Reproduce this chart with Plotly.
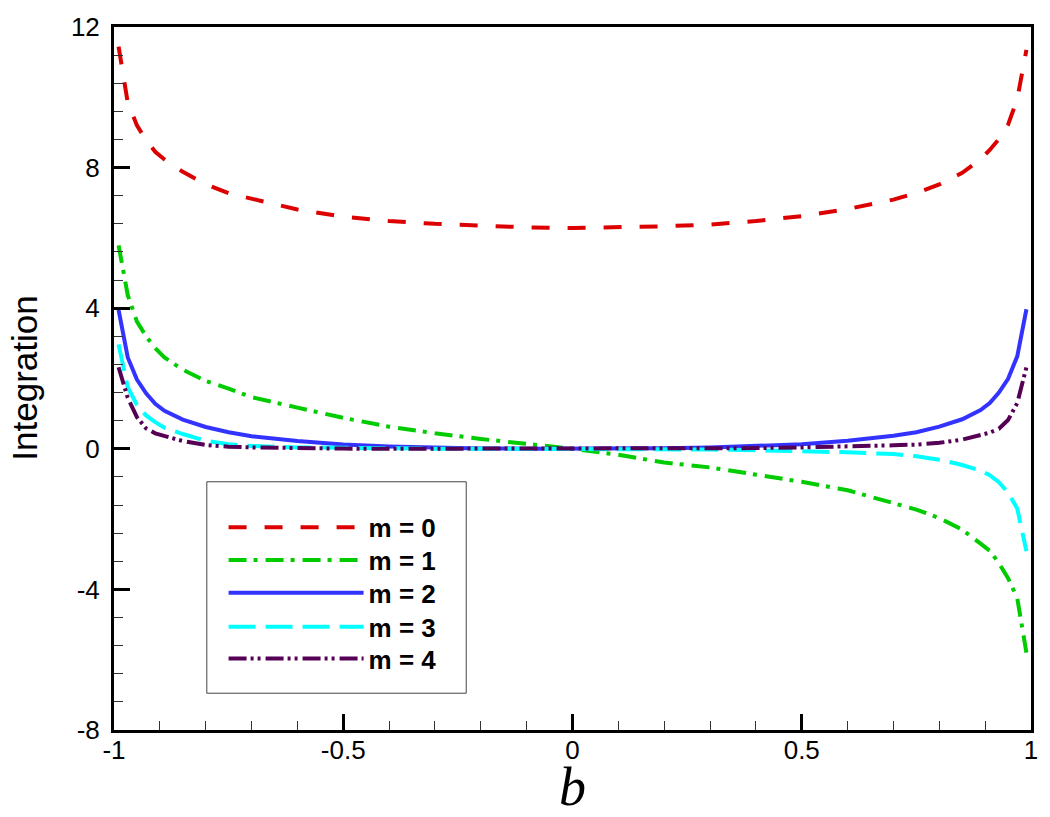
import plotly.graph_objects as go

# sample positions of b
b = [-0.99, -0.97, -0.95, -0.93, -0.91, -0.89, -0.85, -0.8, -0.75, -0.7, -0.6, -0.5, -0.4, -0.3, -0.2, -0.1,
     0.0, 0.1, 0.2, 0.3, 0.4, 0.5, 0.6, 0.7, 0.75, 0.8, 0.85, 0.89, 0.91, 0.93, 0.95, 0.97, 0.99]

m0 = [11.44, 9.85, 9.20, 8.78, 8.45, 8.23, 7.88, 7.53, 7.27, 7.11, 6.81, 6.60, 6.48, 6.40, 6.34, 6.30,
      6.28, 6.30, 6.33, 6.38, 6.48, 6.62, 6.82, 7.09, 7.28, 7.52, 7.85, 8.24, 8.50, 8.81, 9.22, 9.95, 11.35]
m1 = [5.79, 4.37, 3.62, 3.20, 2.86, 2.60, 2.25, 1.93, 1.71, 1.47, 1.17, 0.88, 0.63, 0.44, 0.28, 0.14,
      0.0, -0.17, -0.39, -0.53, -0.73, -0.94, -1.18, -1.54, -1.73, -1.97, -2.30, -2.70, -2.90, -3.25, -3.68, -4.25, -5.80]
m2 = [3.95, 2.60, 1.97, 1.58, 1.28, 1.08, 0.83, 0.62, 0.47, 0.36, 0.22, 0.12, 0.065, 0.03, 0.012, 0.003,
      0.0, 0.003, 0.014, 0.035, 0.07, 0.13, 0.23, 0.37, 0.47, 0.63, 0.84, 1.10, 1.30, 1.60, 1.99, 2.63, 3.97]
m3 = [2.97, 1.75, 1.25, 0.95, 0.76, 0.60, 0.42, 0.23, 0.13, 0.08, 0.04, 0.02, 0.01, 0.004, 0.001, 0.0,
      0.0, -0.001, -0.008, -0.02, -0.04, -0.065, -0.10, -0.15, -0.21, -0.31, -0.46, -0.62, -0.75, -0.95, -1.25, -1.70, -2.91]
m4 = [2.32, 1.45, 0.90, 0.58, 0.44, 0.36, 0.22, 0.11, 0.06, 0.04, 0.015, 0.005, 0.001, 0.0, 0.0, 0.0,
      0.0, 0.0, 0.003, 0.01, 0.02, 0.04, 0.06, 0.10, 0.12, 0.17, 0.26, 0.40, 0.46, 0.57, 0.82, 1.30, 2.32]

names = ["m = 0", "m = 1", "m = 2", "m = 3", "m = 4"]
series = [m0, m1, m2, m3, m4]
colors = ["#DD0000", "#00CC00", "#3333FF", "#00FFFF", "#550055"]
dashes = ["18px,18px", "18px,7px,4px,8px", "solid", "27px,10px", "18px,4px,3px,4px,3px,5px"]

x_tickvals = [-1, -0.5, 0, 0.5, 1]
x_ticktext = ["-1", "-0.5", "0", "0.5", "1"]
y_tickvals = [-8, -4, 0, 4, 8, 12]
y_ticktext = ["-8", "-4", "0", "4", "8", "12"]

# plot-area geometry in pixels (for placing the legend rows)
PLOT_BOTTOM_PX, PLOT_HEIGHT_PX = 730, 708
row_centers_px = [526, 559, 592, 626, 658]

fig = go.Figure()
legend_ids = ["legend", "legend2", "legend3", "legend4", "legend5"]
for name, ys, c, d, lid in zip(names, series, colors, dashes, legend_ids):
    fig.add_trace(go.Scatter(x=b, y=ys, mode="lines", name=name, legend=lid,
                             line=dict(color=c, width=4, dash=d)))

axis_common = dict(showline=True, linecolor="black", linewidth=3, mirror=True,
                   showgrid=False, zeroline=False, ticks="inside", ticklen=16, tickwidth=3,
                   tickcolor="black", tickfont=dict(family="Liberation Sans, Arial", size=26, color="black"))

legend_layout = {}
for lid, yc in zip(legend_ids, row_centers_px):
    legend_layout[lid] = dict(
        x=0.1195, y=(PLOT_BOTTOM_PX - yc) / PLOT_HEIGHT_PX, xanchor="left", yanchor="middle",
        bgcolor="rgba(0,0,0,0)", borderwidth=0, itemwidth=135,
        font=dict(family="Liberation Sans, Arial", size=26, color="black", weight="bold"))

fig.update_layout(
    width=1050, height=817,
    margin=dict(l=114, r=17, t=22, b=87),
    paper_bgcolor="white", plot_bgcolor="white",
    xaxis=dict(range=[-1, 1], tickvals=x_tickvals, ticktext=x_ticktext, ticklabelstandoff=-5,
               minor=dict(dtick=0.1, ticks="inside", ticklen=9, tickwidth=1, tickcolor="#333"),
               **axis_common),
    yaxis=dict(range=[-8, 12], tickvals=y_tickvals, ticktext=y_ticktext, ticklabelstandoff=6,
               minor=dict(dtick=0.8, tick0=0, ticks="inside", ticklen=9, tickwidth=1, tickcolor="#333"),
               **axis_common),
    showlegend=True,
    shapes=[dict(type="rect", xref="paper", yref="paper", x0=0.1012, x1=0.3841, y0=0.0523, y1=0.3531,
                 line=dict(color="#444", width=1), fillcolor="rgba(0,0,0,0)")],
    annotations=[
        dict(text="Integration", xref="paper", yref="paper", x=-0.098, y=0.5, textangle=-90,
             showarrow=False, xanchor="center", yanchor="middle",
             font=dict(family="Liberation Sans, Arial", size=35, color="black")),
        dict(text="<i>b</i>", xref="paper", yref="paper", x=0.5, y=0, yshift=-25,
             showarrow=False, xanchor="center", yanchor="top",
             font=dict(family="Liberation Serif, Times New Roman", size=54, color="black")),
    ],
    **legend_layout,
)

fig.write_html("out.html", config={"displayModeBar": False},
               post_script="document.body.style.margin='0';document.body.style.overflow='hidden';")
